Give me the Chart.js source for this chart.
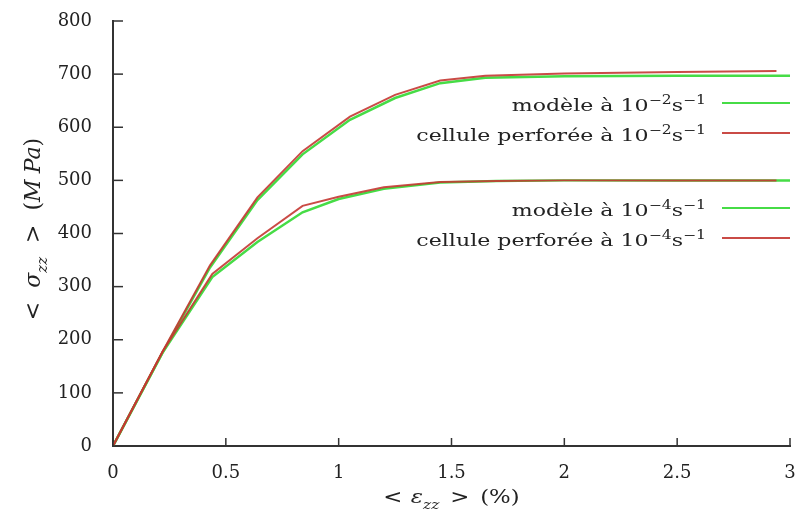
<!DOCTYPE html>
<html>
<head>
<meta charset="utf-8">
<script src="https://cdn.jsdelivr.net/npm/chart.js@4.4.1/dist/chart.umd.min.js"></script>
<style>
  html, body { margin: 0; padding: 0; background: #fff; }
</style>
</head>
<body>
<canvas id="chart" width="796" height="518"></canvas>
<script>
// données (déformation en %, contrainte en MPa)
var strainModel2 = [0, 0.22, 0.43, 0.64, 0.84, 1.05, 1.25, 1.45, 1.65, 2.0, 2.5, 3.0];
var stressModel2 = [0, 176, 336, 463, 549, 614, 655, 683, 693, 696, 697, 697];
var strainCell2 = [0, 0.22, 0.43, 0.64, 0.84, 1.05, 1.25, 1.45, 1.65, 2.0, 2.5, 2.94];
var stressCell2 = [0, 178, 340, 468, 555, 620, 661, 688, 697, 701, 704, 706];

var strainModel4 = [0, 0.22, 0.44, 0.64, 0.84, 1.0, 1.2, 1.45, 1.7, 2.0, 2.5, 3.0];
var stressModel4 = [0, 176, 318, 384, 440, 465, 484, 496, 499, 500, 500, 500];
var strainCell4 = [0, 0.22, 0.44, 0.64, 0.84, 1.0, 1.2, 1.45, 1.7, 2.0, 2.5, 2.94];
var stressCell4 = [0, 178, 324, 391, 452, 469, 487, 497, 499, 500, 500, 500];

var xTicks = [0, 0.5, 1, 1.5, 2, 2.5, 3];
var yTicks = [0, 100, 200, 300, 400, 500, 600, 700, 800];

var green = "#46dc46";
var red = "rgba(196, 55, 50, 0.9)";
var serif = '"DejaVu Serif", "Liberation Serif", serif';

function toPoints(xs, ys) {
  return xs.map(function (x, i) { return { x: x, y: ys[i] }; });
}

// texte avec indices / exposants
function drawRich(ctx, parts, x, y, align, size, sx) {
  sx = sx || 1;
  var total = 0;
  parts.forEach(function (p) {
    ctx.font = fontFor(p, size);
    p.w = ctx.measureText(p.t).width + (p.gap || 0);
    total += p.w;
  });
  ctx.save();
  ctx.translate(x, y);
  ctx.scale(sx, 1);
  var cx = align === "right" ? -total : align === "center" ? -total / 2 : 0;
  ctx.textAlign = "left";
  ctx.textBaseline = "alphabetic";
  parts.forEach(function (p) {
    ctx.font = fontFor(p, size);
    var dy = p.sub ? size * 0.3 : p.sup ? -size * 0.42 : 0;
    ctx.fillText(p.t, cx + (p.gap || 0), dy);
    cx += p.w;
  });
  ctx.restore();
}
function fontFor(p, size) {
  var s = p.sub || p.sup ? Math.round(size * 0.68) : size;
  return (p.italic ? "italic " : "") + s + "px " + serif;
}

function rate(exp) {
  return [
    { t: " à 10" },
    { t: "\u2212" + exp, sup: true },
    { t: "s" },
    { t: "\u22121", sup: true }
  ];
}

var legendItems = [
  { parts: [{ t: "modèle" }].concat(rate("2")), color: green, y: 103 },
  { parts: [{ t: "cellule perforée" }].concat(rate("2")), color: red, y: 133 },
  { parts: [{ t: "modèle" }].concat(rate("4")), color: green, y: 208 },
  { parts: [{ t: "cellule perforée" }].concat(rate("4")), color: red, y: 238 }
];

var decor = {
  id: "decor",
  afterDraw: function (chart) {
    var ctx = chart.ctx;
    var xs = chart.scales.x, ys = chart.scales.y;
    var area = chart.chartArea;
    ctx.save();
    // graduations vers l'intérieur
    ctx.strokeStyle = "#333";
    ctx.lineWidth = 1.5;
    xTicks.forEach(function (v) {
      var px = xs.getPixelForValue(v);
      ctx.beginPath(); ctx.moveTo(px, area.bottom); ctx.lineTo(px, area.bottom - 8); ctx.stroke();
    });
    yTicks.forEach(function (v) {
      var py = ys.getPixelForValue(v);
      ctx.beginPath(); ctx.moveTo(area.left, py); ctx.lineTo(area.left + 10, py); ctx.stroke();
    });

    // légende
    ctx.fillStyle = "#222";
    legendItems.forEach(function (it) {
      drawRich(ctx, it.parts, 706, it.y + 8, "right", 17, 1.3);
      ctx.strokeStyle = it.color;
      ctx.lineWidth = 2;
      ctx.beginPath(); ctx.moveTo(722, it.y); ctx.lineTo(790, it.y); ctx.stroke();
    });

    // titres des axes
    drawRich(ctx, [
      { t: "<" },
      { t: "ε", italic: true, gap: 7 },
      { t: "zz", italic: true, sub: true },
      { t: ">", gap: 9 },
      { t: "(%)", gap: 9 }
    ], (area.left + area.right) / 2, 503, "center", 19, 1.2);

    ctx.save();
    ctx.translate(40, 229);
    ctx.rotate(-Math.PI / 2);
    drawRich(ctx, [
      { t: "<" },
      { t: "σ", italic: true, gap: 14 },
      { t: "zz", italic: true, sub: true },
      { t: ">", gap: 14 },
      { t: "(", gap: 14 },
      { t: "M", italic: true },
      { t: "Pa", italic: true, gap: 6 },
      { t: ")" }
    ], 0, 0, "center", 22, 1);
    ctx.restore();
    ctx.restore();
  }
};

var ctx = document.getElementById("chart").getContext("2d");
new Chart(ctx, {
  type: "line",
  data: {
    datasets: [
      { label: "modèle à 10^-2 s^-1", data: toPoints(strainModel2, stressModel2), borderColor: green, borderWidth: 2.5, order: 4 },
      { label: "modèle à 10^-4 s^-1", data: toPoints(strainModel4, stressModel4), borderColor: green, borderWidth: 2.5, order: 3 },
      { label: "cellule perforée à 10^-2 s^-1", data: toPoints(strainCell2, stressCell2), borderColor: red, borderWidth: 2, order: 2 },
      { label: "cellule perforée à 10^-4 s^-1", data: toPoints(strainCell4, stressCell4), borderColor: red, borderWidth: 2, order: 1 }
    ]
  },
  options: {
    responsive: false,
    animation: false,
    elements: { point: { radius: 0 }, line: { tension: 0, fill: false } },
    layout: { padding: { left: 0, right: 6, top: 21, bottom: 0 } },
    plugins: { legend: { display: false }, tooltip: { enabled: false } },
    scales: {
      x: {
        type: "linear",
        min: 0,
        max: 3,
        afterBuildTicks: function (s) { s.ticks = xTicks.map(function (v) { return { value: v }; }); },
        afterFit: function (s) { s.height = 72; s.paddingRight = 0; s.paddingLeft = 0; },
        grid: { display: false },
        border: { display: true, color: "#333", width: 2 },
        ticks: {
          color: "#222", padding: 9, maxRotation: 0, font: { family: serif, size: 18 },
          callback: function (v) { return String(v); }
        }
      },
      y: {
        min: 0,
        max: 800,
        afterBuildTicks: function (s) { s.ticks = yTicks.map(function (v) { return { value: v }; }); },
        afterFit: function (s) { s.width = 113; s.paddingTop = 0; s.paddingBottom = 0; },
        grid: { display: false },
        border: { display: true, color: "#333", width: 2 },
        ticks: { color: "#222", padding: 13, font: { family: serif, size: 18 } }
      }
    }
  },
  plugins: [decor]
});
</script>
</body>
</html>
